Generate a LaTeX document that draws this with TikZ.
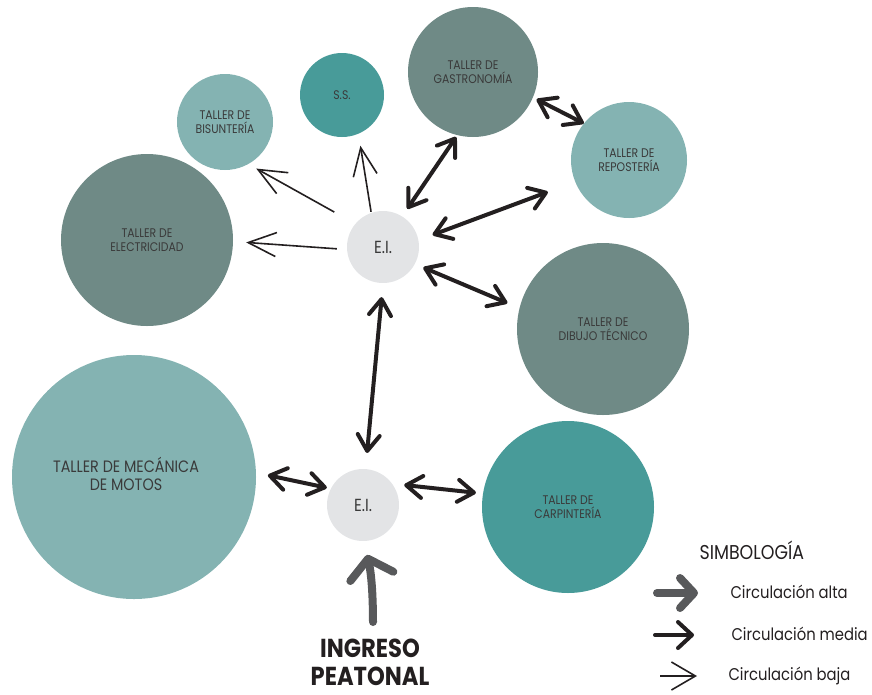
\documentclass[tikz,border=0pt]{standalone}
\usepackage{fontspec}
\setmainfont{Poppins}[FakeStretch=0.87]
\usetikzlibrary{arrows.meta}
\definecolor{verdeOsc}{RGB}{111,138,134}
\definecolor{verdeCla}{RGB}{132,179,178}
\definecolor{turquesa}{RGB}{72,155,153}
\definecolor{grisEI}{RGB}{227,228,230}
\definecolor{tinta}{RGB}{35,31,32}
\definecolor{grisAlta}{RGB}{88,89,91}
\definecolor{texto}{RGB}{58,58,58}
\begin{document}
\begin{tikzpicture}[x=1pt,y=-1pt,
    taller/.style={circle,inner sep=0pt,align=center,text=texto,font=\fontsize{12.5}{14}\selectfont},
    ei/.style={circle,inner sep=0pt,fill=grisEI,minimum size=72pt,text=texto,font=\fontsize{17.5}{20}\selectfont},
    baja/.style={draw=tinta,line width=1.6pt,-{Straight Barb[length=28pt,width=24pt]}},
    media/.style={draw=tinta,line width=4pt,line cap=round,{Straight Barb[length=16pt,width=22pt,round]}-{Straight Barb[length=16pt,width=22pt,round]}},
    alta/.style={draw=grisAlta,line width=8pt,line cap=round,-{Straight Barb[length=18pt,width=44pt,round]}},
    leyenda/.style={anchor=west,text=tinta,font=\fontsize{17}{20}\selectfont}]
        \useasboundingbox (0,0) rectangle (872,694);
        \node[taller,fill=verdeCla,minimum size=96pt] (bisu) at (225,122) {TALLER DE\\BISUNTERÍA};
        \node[taller,fill=turquesa,minimum size=84pt] (ss) at (342,95) {S.S.};
        \node[taller,fill=verdeOsc,minimum size=130pt] (gastro) at (473,72) {TALLER DE\\GASTRONOMÍA};
        \node[taller,fill=verdeCla,minimum size=116pt] (repos) at (629,160) {TALLER DE\\REPOSTERÍA};
        \node[taller,fill=verdeOsc,minimum size=172pt] (elec) at (147,240) {TALLER DE\\ELECTRICIDAD};
        \node[taller,fill=verdeOsc,minimum size=172pt] (dibujo) at (603,329) {TALLER DE\\DIBUJO TÉCNICO};
        \node[taller,fill=verdeCla,minimum size=244pt] (mecanica) at (134,477) {};
        \node[text=texto,align=center,font=\fontsize{16.5}{18}\selectfont] (mecTxt) at (126,474) {TALLER DE MECÁNICA\\DE MOTOS};
        \node[taller,fill=turquesa,minimum size=172pt] (carpin) at (568,507) {TALLER DE\\CARPINTERÍA};
        \node[ei] (eiA) at (383,247) {E.I.};
        \node[ei] (eiB) at (363,505) {E.I.};
        \draw[baja,shorten <=24pt,shorten >=9pt] (eiA.140) -- (bisu.-61);
        \draw[baja,shorten <=10pt,shorten >=13pt] (eiA.184) -- (elec.-1);
        \draw[baja,shorten <=1pt,shorten >=12pt] (eiA.109) -- (ss.-67);
        \draw[media,shorten <=9pt,shorten >=2pt] (eiA.58) -- (gastro.256);
        \draw[media,shorten <=15pt,shorten >=29pt] (eiA.11) -- (repos.202);
        \draw[media,shorten <=4pt] (gastro.-23) -- (repos.141);
        \draw[media,shorten <=9pt,shorten >=13pt] (eiA.-28) -- (dibujo.166);
        \draw[media,shorten <=14pt,shorten >=16pt] (eiA.-90) -- (eiB.86);
        \draw[media,shorten <=12pt,shorten >=4pt] (mecanica.2) -- (eiB.153);
        \draw[media,shorten <=12pt,shorten >=7pt] (eiB.36) -- (carpin.171);
        \coordinate (entrada) at (373,622);
        \draw[alta,shorten >=14pt] (entrada) to[bend right=6] (eiB.-88);
        \node[font=\bfseries\fontsize{26}{28}\selectfont,align=center,text=tinta] (ingreso) at (370,662) {INGRESO\\PEATONAL};
        \node[leyenda,font=\fontsize{20}{22}\selectfont] (simbo) at (696,550) {SIMBOLOGÍA};
        \node[leyenda] (txtAlta) at (727,592) {Circulación alta};
        \node[leyenda] (txtMedia) at (728,634) {Circulación media};
        \node[leyenda] (txtBaja) at (725,676) {Circulación baja};
        \coordinate (altaA) at (657,593);
        \coordinate (altaB) at (698,593);
        \coordinate (mediaA) at (655,635);
        \coordinate (mediaB) at (694,635);
        \coordinate (bajaA) at (660,676);
        \coordinate (bajaB) at (697,676);
        \draw[alta,arrows=-{Straight Barb[length=14pt,width=30pt,round]}] (altaA) -- (altaB);
        \draw[media,arrows=-{Straight Barb[length=14pt,width=26pt,round]}] (mediaA) -- (mediaB);
        \draw[baja,arrows=-{Straight Barb[length=24pt,width=28pt]}] (bajaA) -- (bajaB);
    \end{tikzpicture}
\end{document}
